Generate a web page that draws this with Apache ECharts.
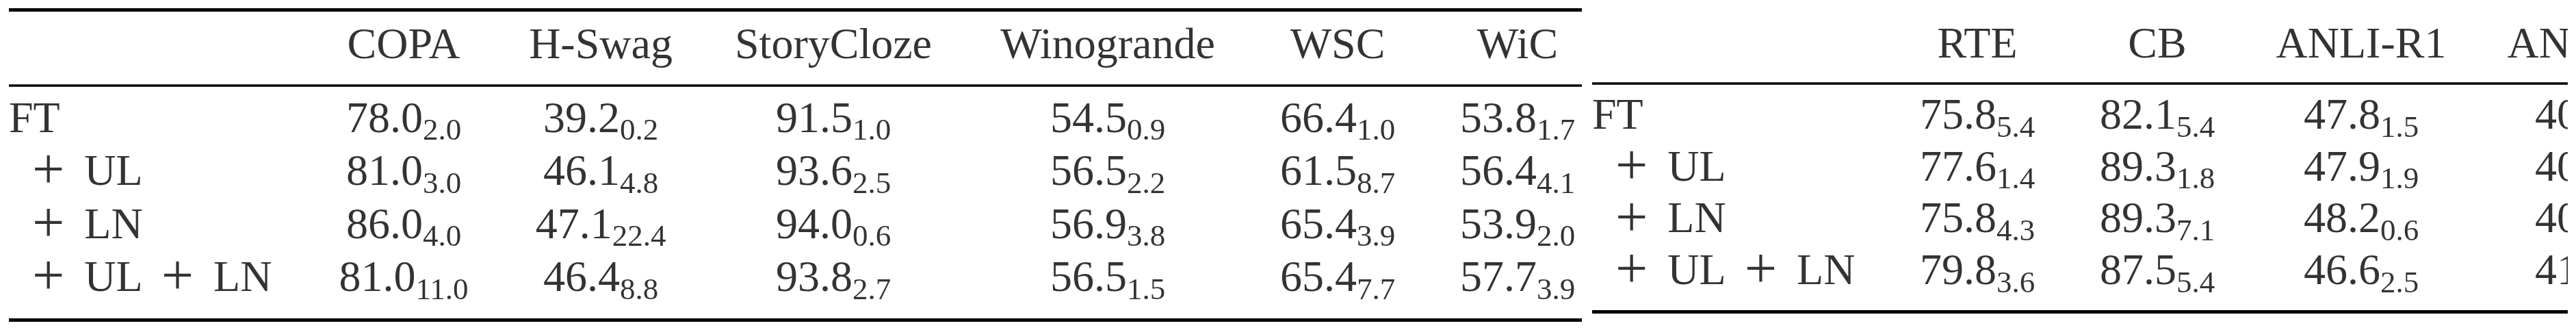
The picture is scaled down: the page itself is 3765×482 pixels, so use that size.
<!DOCTYPE html>
<html>
<head>
<meta charset="utf-8">
<script src="https://cdn.jsdelivr.net/npm/echarts@6/dist/echarts.min.js"></script>
<style>
html, body { margin: 0; padding: 0; background: #fff; }
#chart { width: 3753px; height: 482px; }
</style>
</head>
<body>
<div id="chart"></div>
<script>
// ---- data ----
var rowNames = ['FT', '+ UL', '+ LN', '+ UL + LN'];

var leftCols = ['COPA', 'H-Swag', 'StoryCloze', 'Winogrande', 'WSC', 'WiC'];
var copaMean = [78.0, 81.0, 86.0, 81.0];
var copaStd = [2.0, 3.0, 4.0, 11.0];
var hswagMean = [39.2, 46.1, 47.1, 46.4];
var hswagStd = [0.2, 4.8, 22.4, 8.8];
var storyMean = [91.5, 93.6, 94.0, 93.8];
var storyStd = [1.0, 2.5, 0.6, 2.7];
var winoMean = [54.5, 56.5, 56.9, 56.5];
var winoStd = [0.9, 2.2, 3.8, 1.5];
var wscMean = [66.4, 61.5, 65.4, 65.4];
var wscStd = [1.0, 8.7, 3.9, 7.7];
var wicMean = [53.8, 56.4, 53.9, 57.7];
var wicStd = [1.7, 4.1, 2.0, 3.9];

var rightCols = ['RTE', 'CB', 'ANLI-R1', 'ANLI-R2'];
var rteMean = [75.8, 77.6, 75.8, 79.8];
var rteStd = [5.4, 1.4, 4.3, 3.6];
var cbMean = [82.1, 89.3, 89.3, 87.5];
var cbStd = [5.4, 1.8, 7.1, 5.4];
var anli1Mean = [47.8, 47.9, 48.2, 46.6];
var anli1Std = [1.5, 1.9, 0.6, 2.5];
// the picture is cut off here: only the first two digits can be read
var anli2Visible = ['40', '40', '40', '41'];

// ---- layout / style ----
var FONT = 'Liberation Serif, DejaVu Serif, serif';
var MAIN = 64, SUB = 45, PLUS = 84;
var MID = MAIN * 0.3375;          // text middle -> alphabetic baseline
var headBase = 90, rowBase0 = 197.5, rowPitch = 77.5;
var rules = [{ y: 14.5, w: 5 }, { y: 125, w: 3.5 }, { y: 467, w: 5 }];
var leftWidths = [432, 290, 286, 394, 408, 264, 262];
var rightWidths = [431, 264, 262, 334, 342];

var ctx = document.createElement('canvas').getContext('2d');
function textW(s, size) { ctx.font = size + 'px ' + FONT; return ctx.measureText(s).width; }

function centers(widths) {
    var out = [], acc = widths[0];
    for (var i = 1; i < widths.length; i++) { out.push(acc + widths[i] / 2); acc += widths[i]; }
    return out;
}
function rowY(i) { return rowBase0 + i * rowPitch - MID; }

function rowLabel(name) {
    return name.split(' ').map(function (p, i) {
        if (p === '+') return i === 0 ? '{lead|+}' : '{op|+}';
        return '{w|' + p + '}';
    }).join('');
}

var rich = {
    w: { fontSize: MAIN, fontFamily: FONT, color: '#000', lineHeight: MAIN },
    lead: { fontSize: PLUS, fontFamily: FONT, color: '#000', lineHeight: MAIN, padding: [0, 29, 0, 34] },
    op: { fontSize: PLUS, fontFamily: FONT, color: '#000', lineHeight: MAIN, padding: [0, 29, 0, 27] },
    m: { fontSize: MAIN, fontFamily: FONT, color: '#000', lineHeight: MAIN },
    s: { fontSize: SUB, fontFamily: FONT, color: '#000', lineHeight: SUB, padding: [33, 0, 0, 0] }
};

function tableSeries(idx, cols, widths, cells, ruleList, ruleEnd) {
    var cx = centers(widths);
    var texts = cols.map(function (c, j) {
        return { value: [cx[j], headBase - MID], name: c, label: { formatter: c, align: 'center' } };
    }).concat(rowNames.map(function (r, i) {
        return { value: [0, rowY(i)], name: r, label: { formatter: rowLabel(r), align: 'left' } };
    }));
    var cellData = [];
    cells.forEach(function (col, j) {
        for (var i = 0; i < rowNames.length; i++) {
            if (col.mean) {
                cellData.push({ value: [cx[j], rowY(i)],
                    label: { formatter: '{m|' + col.mean[i].toFixed(1) + '}{s|' + col.std[i].toFixed(1) + '}', align: 'center' } });
            } else {
                // partial text, placed where a full value of this table would start
                var half = (textW(anli1Mean[0].toFixed(1), MAIN) + textW(anli1Std[0].toFixed(1), SUB)) / 2;
                cellData.push({ value: [cx[j] - half, rowY(i)],
                    label: { formatter: '{m|' + col.text[i] + '}', align: 'left' } });
            }
        }
    });
    var base = {
        type: 'scatter', xAxisIndex: idx, yAxisIndex: idx, symbolSize: 0, clip: false, silent: true,
        label: { show: true, position: 'inside', verticalAlign: 'middle', fontSize: MAIN, fontFamily: FONT, color: '#000', rich: rich }
    };
    return [
        Object.assign({}, base, {
            data: texts,
            markLine: {
                silent: true, symbol: ['none', 'none'], label: { show: false }, animation: false,
                data: ruleList.map(function (r) {
                    return [{ coord: [0, r.y], lineStyle: { width: r.w, color: '#000', type: 'solid' } }, { coord: [ruleEnd, r.y] }];
                })
            }
        }),
        Object.assign({}, base, { data: cellData })
    ];
}

// the right grid ends at the container edge; the last column lies past it and is cut off
var leftTotal = 2299, rightTotal = 1426;

var chart = echarts.init(document.getElementById('chart'), null, { renderer: 'canvas' });
var option = {
    backgroundColor: '#fff',
    animation: false,
    grid: [
        { left: 13, top: 0, width: leftTotal, height: 482 },
        { left: 2327, top: -12, width: rightTotal, height: 482 }
    ],
    xAxis: [
        { type: 'value', gridIndex: 0, min: 0, max: leftTotal, show: false },
        { type: 'value', gridIndex: 1, min: 0, max: rightTotal, show: false }
    ],
    yAxis: [
        { type: 'value', gridIndex: 0, min: 0, max: 482, inverse: true, show: false },
        { type: 'value', gridIndex: 1, min: 0, max: 482, inverse: true, show: false }
    ],
    series: [].concat(
        tableSeries(0, leftCols, leftWidths, [
            { mean: copaMean, std: copaStd }, { mean: hswagMean, std: hswagStd },
            { mean: storyMean, std: storyStd }, { mean: winoMean, std: winoStd },
            { mean: wscMean, std: wscStd }, { mean: wicMean, std: wicStd }
        ], rules, leftTotal),
        tableSeries(1, rightCols, rightWidths, [
            { mean: rteMean, std: rteStd }, { mean: cbMean, std: cbStd },
            { mean: anli1Mean, std: anli1Std }, { text: anli2Visible }
        ], rules.slice(1), rightTotal)
    )
};
chart.setOption(option);
window.addEventListener('resize', function () { chart.resize(); });
</script>
</body>
</html>
